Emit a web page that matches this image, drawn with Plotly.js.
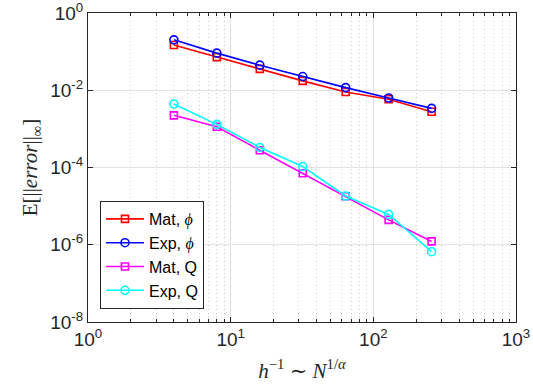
<!DOCTYPE html>
<html>
<head>
<meta charset="utf-8">
<script src="https://cdn.plot.ly/plotly-3.0.1.min.js"></script>
<style>html,body{margin:0;padding:0;background:#fff;}#chart{width:533px;height:390px;}</style>
</head>
<body>
<div id="chart"></div>
<script>
// Data
const hInv = [4, 8, 16, 32, 64, 128, 256];
const matPhi = [0.148, 0.072, 0.0357, 0.0175, 0.00904, 0.00584, 0.00278];
const expPhi = [0.202, 0.0914, 0.0446, 0.0226, 0.0117, 0.0063, 0.0034];
const matQ = [0.00224, 0.00113, 2.8e-4, 7.1e-5, 1.8e-5, 4.4e-6, 1.22e-6];
const expQ = [0.0044, 0.00131, 3.3e-4, 1.06e-4, 1.83e-5, 6.1e-6, 6.6e-7];

const phi = '<i style="font-family:\'Liberation Serif\'">ϕ</i>';
const seriesNames = ['Mat, ' + phi, 'Exp, ' + phi, 'Mat, Q', 'Exp, Q'];
const seriesData = [matPhi, expPhi, matQ, expQ];
const seriesColors = ['#ff0000', '#0000ff', '#ff00ff', '#00ffff'];
const seriesSymbols = ['square-open', 'circle-open', 'square-open', 'circle-open'];

const xTickVals = [1, 10, 100, 1000];
const xTickText = ['10<sup>0</sup>', '10<sup>1</sup>', '10<sup>2</sup>', '10<sup>3</sup>'];
const yTickVals = [1e-8, 1e-6, 1e-4, 1e-2, 1];
const yTickText = ['10<sup>-8</sup>', '10<sup>-6</sup>', '10<sup>-4</sup>', '10<sup>-2</sup>', '10<sup>0</sup>'];

const traces = seriesData.map((y, i) => ({
  x: hInv, y: y, type: 'scatter', mode: 'lines+markers', name: seriesNames[i],
  line: {color: seriesColors[i], width: 1.6},
  marker: {symbol: seriesSymbols[i], color: seriesColors[i], size: seriesSymbols[i] === 'circle-open' ? 8 : 7, line: {width: 1.6, color: seriesColors[i]}}
}));

const axisCommon = {
  type: 'log', showline: true, linecolor: '#262626', linewidth: 1, mirror: 'allticks',
  ticks: 'inside', ticklen: 5, tickcolor: '#262626', tickmode: 'array',
  ticklabeloverflow: 'allow',
  showgrid: true, gridcolor: '#e3e3e3', gridwidth: 1, zeroline: false,
  tickfont: {family: 'Liberation Sans, Arial, sans-serif', size: 19, color: '#262626'}
};

const layout = {
  width: 533, height: 390,
  margin: {l: 88, r: 17, t: 13, b: 68},
  paper_bgcolor: '#ffffff', plot_bgcolor: '#ffffff',
  showlegend: true,
  xaxis: Object.assign({}, axisCommon, {
    range: [0, 3], tickvals: xTickVals, ticktext: xTickText,
    minor: {dtick: 'D1', ticks: 'inside', ticklen: 3, tickcolor: '#262626', showgrid: true, gridcolor: '#cccccc', griddash: '1px,3px', gridwidth: 1},
    title: {text: '<i>h</i><sup>−1</sup> ∼ <i>N</i><sup>1/<i>α</i></sup>', font: {family: 'Liberation Serif, DejaVu Serif, serif', size: 21, color: '#262626'}, standoff: 14}
  }),
  yaxis: Object.assign({}, axisCommon, {
    range: [-8, 0], tickvals: yTickVals, ticktext: yTickText,
    title: {text: 'E[||<i>error</i>||<sub>∞</sub>]', font: {family: 'Liberation Serif, DejaVu Serif, serif', size: 21, color: '#262626'}, standoff: 6}
  }),
  legend: {
    x: 0.028, y: 0.042, xanchor: 'left', yanchor: 'bottom',
    bgcolor: '#ffffff', bordercolor: '#262626', borderwidth: 1,
    font: {family: 'Liberation Sans, Arial, sans-serif', size: 16, color: '#000'},
    itemwidth: 38, tracegroupgap: 0
  }
};

Plotly.newPlot('chart', traces, layout, {displayModeBar: false, staticPlot: true});
</script>
</body>
</html>
